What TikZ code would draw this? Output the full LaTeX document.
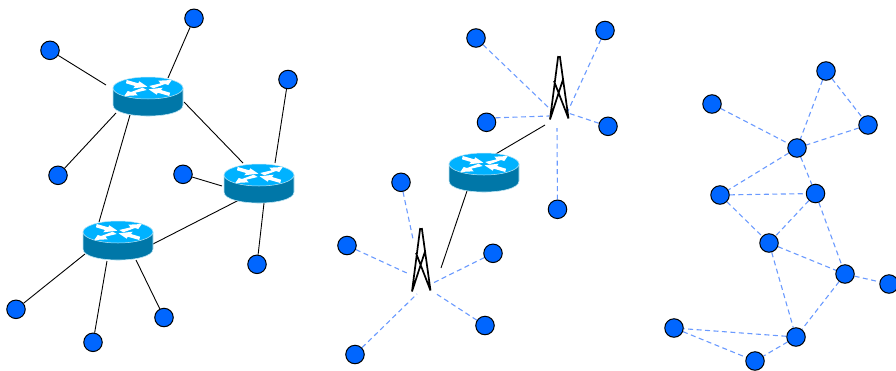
\documentclass[tikz,border=0pt]{standalone}
\usetikzlibrary{backgrounds,shapes.geometric}
\definecolor{dotblue}{HTML}{0066FF}
\definecolor{dashblue}{HTML}{6A9AFF}
\definecolor{rtop}{HTML}{00B2FF}
\definecolor{rside}{HTML}{0077A8}
\definecolor{rrim}{HTML}{BFE6F5}
\tikzset{
  x=1pt,y=-1pt,
  dot/.style={circle,draw=black,fill=dotblue,line width=1pt,minimum size=18.5pt,inner sep=0pt},
  solidlink/.style={draw=black,line width=0.9pt},
  dashlink/.style={draw=dashblue,line width=1.1pt,dash pattern=on 5pt off 3.5pt},
  routerarea/.style={ellipse,minimum width=70pt,minimum height=40pt,inner sep=0pt},
  towerarea/.style={rectangle,minimum width=20pt,minimum height=64pt,inner sep=0pt},
  routericon/.pic={
    \path[fill=rside,draw=rrim,line width=0.6pt] (-35,-8) -- (-35,9) .. controls (-35,23.7) and (35,23.7) .. (35,9) -- (35,-8) -- cycle;
    \path[fill=rtop,draw=rrim,line width=0.5pt] (0,-8) ellipse[x radius=35,y radius=11];
    \foreach \s in {1,-1}{
      \fill[white,shift={(0,-8)},scale=\s] (-21.3,-8) -- (-9.7,-4.7) -- (-8.7,-6.7) -- (-0.7,-1.3) -- (-14.7,0.3) -- (-13,-2) -- (-22,-4.7) -- cycle;
      \fill[white,shift={(0,-8)},scale=\s] (1.3,-2) -- (12.7,-4.7) -- (10.3,-7.3) -- (23.7,-8) -- (20.3,-3) -- (17,-4) -- (5.3,0.3) -- cycle;
    }
  },
  towericon/.pic={
    \draw[black,line width=1.7pt,line join=round] (-9,31.5) -- (-0.8,-32) (0.8,-32) -- (9.5,30.5) (-9,31.5) -- (4,-8.5) (9.5,30.5) -- (-5,-7);
  }
}
\newcommand{\routerat}[2]{\node[routerarea] (#1) at (#2) {}; \pic at (#1) {routericon};}
\newcommand{\towerat}[2]{\node[towerarea] (#1) at (#2) {}; \pic at (#1) {towericon};}
\begin{document}
\begin{tikzpicture}
\useasboundingbox (0,0) rectangle (896,370);
% routers
\routerat{ra}{148,96}
\routerat{rb}{259,183}
\routerat{rc}{118,240}
\routerat{rd}{484,172}
% towers
\towerat{ta}{421,260}
\towerat{tb}{559,88}
% left dots
\foreach \n/\p in {la/{50,50.3},lb/{194,18.3},lc/{58,175.3},ld/{288,79.5},le/{183,174.3},lf/{257,264.3},lg/{16,309.3},lh/{93,342.3},li/{164,317.5}}
  \node[dot] (\n) at (\p) {};
% middle dots
\foreach \n/\p in {ma/{476,38},mb/{605,30.5},mc/{486.5,122.3},md/{608,126.3},me/{557.5,209.3},mf/{401,182.3},mg/{347,245.5},mh/{493,253.3},mi/{485,325.5},mj/{355,354.5}}
  \node[dot] (\n) at (\p) {};
% right dots
\foreach \n/\p in {a/{826,71},b/{712,104},c/{868,125},d/{797,148},e/{720,195},f/{815.5,193.5},g/{769,243},h/{845,274},i/{889,284},j/{796,337},k/{674,328},l/{755,361}}
  \node[dot] (\n) at (\p) {};
\begin{scope}[on background layer]
% solid links: dot to router, ends offset from the router centre
\foreach \u/\v/\dx/\dy in {la/ra/-42/-11,lb/ra/20/-18,lc/ra/-32/17,ld/rb/16/-20,le/rb/-37/3,lf/rb/5/20,lg/rc/-33/14,lh/rc/-11/21,li/rc/18/20}
  \path[solidlink] (\u) -- ([shift={(\dx,\dy)}]\v.center);
\path[solidlink] ([shift={(-18,19)}]ra.center) -- ([shift={(-19,-18)}]rc.center);
\path[solidlink] ([shift={(36,6)}]ra.center) -- ([shift={(-16,-20)}]rb.center);
\path[solidlink] ([shift={(-20,17)}]rb.center) -- ([shift={(35,4)}]rc.center);
\path[solidlink] ([shift={(-17,19)}]rd.center) -- ([shift={(20,8)}]ta.center);
\path[solidlink] ([shift={(10,-17)}]rd.center) -- ([shift={(-14,37)}]tb.center);
% dashed links to towers
\foreach \u/\v/\dx/\dy in {ma/tb/-10/20,mb/tb/8/25,md/tb/9/25,me/tb/-2/40,mf/ta/-8/-21,mg/ta/-12/14,mh/ta/12/23,mi/ta/14/33,mj/ta/-4/34}
  \path[dashlink] (\u) -- ([shift={(\dx,\dy)}]\v.center);
\path[dashlink] ([shift={(9,-4.5)}]mc.center) -- ([shift={(-10,28)}]tb.center);
% dashed mesh
\foreach \u/\v in {a/d,a/c,b/d,c/d,d/e,d/f,e/f,e/g,f/g,f/h,g/h,g/j,h/j,h/i,j/k,j/l,k/l}
  \path[dashlink] (\u) -- (\v);
\end{scope}
\end{tikzpicture}
\end{document}
